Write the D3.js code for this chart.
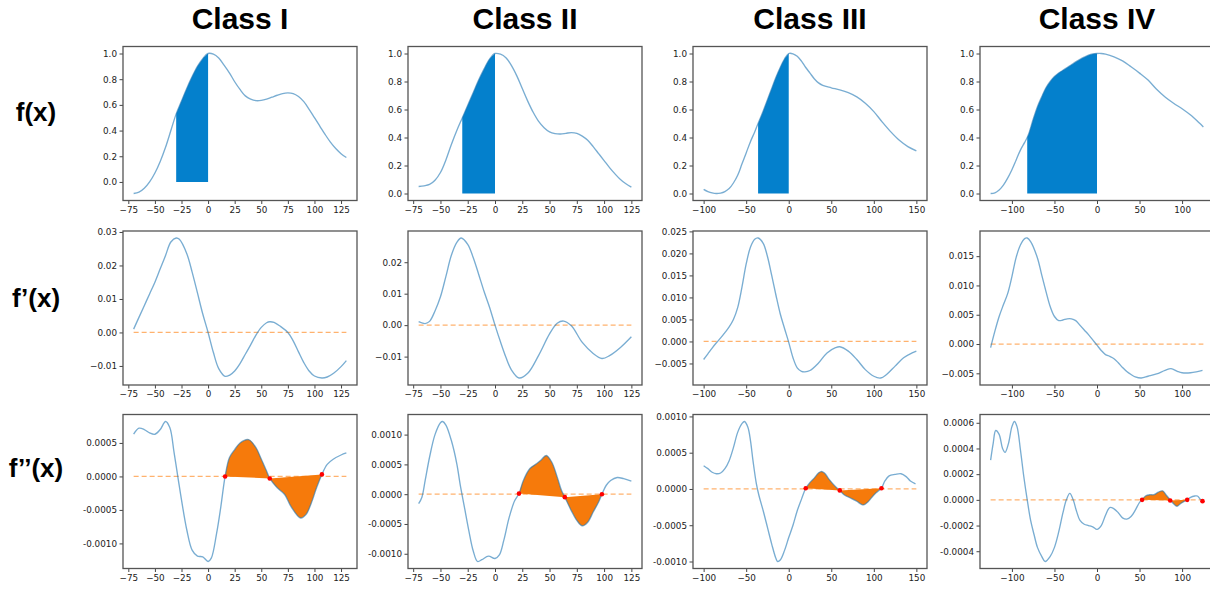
<!DOCTYPE html>
<html>
<head>
<meta charset="utf-8">
<script src="https://cdn.jsdelivr.net/npm/d3@7"></script>
<style>
  body { margin: 0; background: #fff; }
  svg { display: block; }
  .tick text { font-family: "DejaVu Sans", sans-serif; font-size: 8.8px; fill: #222; }
  .tick line { stroke: #444; }
  .big { font-family: "Liberation Sans", Arial, sans-serif; font-weight: bold; fill: #000; }
</style>
</head>
<body>
<svg id="chart" width="1210" height="589"></svg>
<script>
// column titles and row labels
var classes = ["Class I", "Class II", "Class III", "Class IV"];
var rowLabels = ["f(x)", "f\u2019(x)", "f\u2019\u2019(x)"];

// Class I
var fI = [[-70,-0.09],[-65,-0.08],[-60,-0.05],[-55,0.0],[-50,0.07],[-45,0.16],[-40,0.27],[-35,0.4],[-30,0.53],[-25,0.63],[-20,0.73],[-15,0.82],[-10,0.9],[-5,0.96],[0,1.0],[5,0.995],[10,0.965],[15,0.91],[20,0.85],[25,0.78],[30,0.72],[35,0.67],[40,0.645],[45,0.633],[50,0.635],[55,0.645],[60,0.66],[65,0.675],[70,0.688],[75,0.693],[80,0.688],[85,0.665],[90,0.625],[95,0.565],[100,0.5],[105,0.435],[110,0.37],[115,0.31],[120,0.26],[125,0.22],[130,0.19]];
var d1I = [[-70,0.001],[-65,0.0045],[-60,0.008],[-55,0.0115],[-50,0.015],[-45,0.019],[-40,0.023],[-35,0.027],[-30,0.0282],[-27,0.0278],[-20,0.0235],[-15,0.018],[-10,0.0118],[-5,0.0055],[0,0.0],[5,-0.006],[10,-0.0108],[16,-0.0131],[20,-0.0128],[25,-0.0115],[30,-0.0093],[35,-0.0065],[40,-0.0037],[45,-0.0008],[50,0.0015],[55,0.0029],[58,0.0032],[62,0.003],[68,0.0018],[75,0.0],[80,-0.0025],[85,-0.0058],[90,-0.009],[95,-0.0115],[100,-0.013],[107,-0.0136],[112,-0.0133],[118,-0.0122],[125,-0.0102],[130,-0.0084]];
var d2I = [[-70,0.00063],[-65,0.00072],[-60,0.0007],[-55,0.00065],[-50,0.00063],[-45,0.0007],[-40,0.00082],[-36,0.00073],[-32,0.00036],[-28,-0.00005],[-25,-0.00035],[-20,-0.0008],[-15,-0.0011],[-10,-0.00119],[-5,-0.0012],[0,-0.00127],[3,-0.00122],[8,-0.00085],[12,-0.00045],[16,0.0],[20,0.00028],[25,0.0004],[30,0.0005],[38,0.00055],[45,0.00043],[50,0.00026],[55,0.00008],[58,-0.00003],[65,-0.00017],[72,-0.00027],[78,-0.00045],[87,-0.00062],[92,-0.00057],[97,-0.0004],[102,-0.00017],[107,0.00003],[112,0.00018],[118,0.00026],[125,0.00032],[130,0.00035]];
var redI = [[16,0.0],[58,-0.00003],[107,0.00003]];

// Class II
var fII = [[-70,0.05],[-65,0.055],[-60,0.065],[-55,0.095],[-50,0.15],[-45,0.24],[-40,0.35],[-35,0.45],[-30,0.54],[-25,0.63],[-20,0.72],[-15,0.81],[-10,0.89],[-5,0.96],[0,1.0],[5,0.995],[10,0.97],[15,0.915],[20,0.84],[25,0.75],[30,0.66],[35,0.58],[40,0.515],[45,0.47],[50,0.44],[55,0.428],[60,0.425],[65,0.43],[70,0.435],[75,0.43],[80,0.41],[85,0.38],[90,0.335],[95,0.285],[100,0.235],[105,0.185],[110,0.14],[115,0.1],[120,0.07],[125,0.045]];
var d1II = [[-70,0.0011],[-67,0.0007],[-64,0.0005],[-60,0.0012],[-55,0.0045],[-50,0.009],[-45,0.0155],[-40,0.0222],[-35,0.0263],[-31,0.0277],[-25,0.0257],[-20,0.0215],[-15,0.0162],[-10,0.0107],[-5,0.0057],[0,0.0],[5,-0.0053],[10,-0.0102],[15,-0.0142],[22,-0.0168],[30,-0.0153],[40,-0.0096],[50,-0.0028],[57,0.0006],[63,0.0013],[70,-0.0002],[80,-0.0055],[90,-0.009],[98,-0.0106],[105,-0.0097],[115,-0.0071],[125,-0.0037]];
var d2II = [[-70,-0.00016],[-67,-0.00005],[-64,0.00023],[-60,0.00062],[-55,0.001],[-50,0.0012],[-48,0.00122],[-45,0.00116],[-40,0.0009],[-35,0.00051],[-32,0.00017],[-28,-0.00022],[-24,-0.00061],[-20,-0.00095],[-16,-0.00113],[-12,-0.0011],[-6,-0.00104],[0,-0.00108],[4,-0.00102],[8,-0.00078],[13,-0.00039],[18,-0.00011],[22,0.00001],[26,0.00023],[32,0.00043],[38,0.00051],[42,0.00057],[47,0.00065],[52,0.00054],[57,0.00029],[61,0.00006],[64,-0.00005],[70,-0.00028],[75,-0.00044],[80,-0.00053],[85,-0.00047],[90,-0.0003],[95,-0.00013],[98,0.0],[102,0.00015],[106,0.00023],[112,0.00028],[118,0.00026],[125,0.00022]];
var redII = [[22,0.00001],[64,-0.00005],[98,0.0]];

// Class III
var fIII = [[-100,0.03],[-95,0.014],[-90,0.004],[-85,0.0],[-80,0.003],[-75,0.014],[-70,0.035],[-65,0.075],[-60,0.13],[-55,0.21],[-50,0.29],[-45,0.37],[-40,0.44],[-36,0.5],[-30,0.59],[-25,0.67],[-20,0.75],[-15,0.83],[-10,0.9],[-5,0.96],[0,1.0],[5,0.998],[10,0.98],[15,0.945],[20,0.9],[25,0.86],[30,0.82],[35,0.79],[40,0.772],[50,0.755],[60,0.74],[70,0.72],[80,0.69],[90,0.645],[100,0.585],[110,0.51],[120,0.44],[130,0.38],[140,0.335],[150,0.305]];
var d1III = [[-100,-0.0041],[-95,-0.0028],[-90,-0.0015],[-85,-0.0003],[-80,0.0008],[-75,0.002],[-70,0.0033],[-65,0.005],[-60,0.0077],[-55,0.0123],[-50,0.0176],[-45,0.0214],[-40,0.0232],[-36,0.0235],[-30,0.0223],[-25,0.0193],[-20,0.015],[-15,0.0105],[-10,0.0063],[-5,0.003],[0,-0.0002],[5,-0.0037],[10,-0.006],[15,-0.0068],[19,-0.0069],[25,-0.0066],[35,-0.0049],[45,-0.0026],[55,-0.0014],[60,-0.0012],[70,-0.0022],[80,-0.0041],[90,-0.0064],[100,-0.0079],[108,-0.0083],[115,-0.0075],[125,-0.0056],[135,-0.0037],[145,-0.0026],[150,-0.0022]];
var d2III = [[-100,0.00032],[-95,0.00028],[-90,0.00023],[-85,0.00021],[-80,0.00022],[-75,0.00028],[-70,0.00039],[-65,0.00057],[-60,0.00078],[-55,0.0009],[-52,0.00093],[-48,0.00085],[-45,0.00067],[-42,0.00039],[-38,0.00007],[-35,-0.00009],[-30,-0.0003],[-25,-0.00053],[-20,-0.00076],[-15,-0.00096],[-13,-0.001],[-10,-0.00098],[-5,-0.00085],[0,-0.00067],[5,-0.0005],[10,-0.0003],[15,-0.00014],[20,0.00001],[25,0.00009],[30,0.00015],[35,0.00022],[38,0.00024],[42,0.00022],[47,0.00014],[52,0.00007],[57,0.00001],[60,-0.00002],[65,-0.00008],[70,-0.00011],[75,-0.00014],[80,-0.00017],[85,-0.00021],[88,-0.00022],[93,-0.00018],[98,-0.00011],[103,-0.00005],[109,0.00001],[113,0.00011],[118,0.00018],[125,0.0002],[132,0.00021],[138,0.00017],[143,0.00011],[149,0.00007]];
var redIII = [[20,0.00001],[60,-0.00002],[109,0.00001]];

// Class IV
var fIV = [[-125,0.0],[-120,0.005],[-115,0.025],[-110,0.06],[-105,0.11],[-100,0.17],[-95,0.24],[-90,0.31],[-85,0.365],[-82,0.4],[-80,0.43],[-75,0.53],[-70,0.62],[-65,0.69],[-60,0.755],[-55,0.8],[-50,0.835],[-45,0.86],[-40,0.88],[-35,0.9],[-30,0.92],[-25,0.94],[-20,0.958],[-15,0.974],[-10,0.988],[-5,0.997],[0,1.0],[5,1.0],[10,0.995],[20,0.976],[30,0.947],[40,0.905],[50,0.86],[60,0.81],[70,0.745],[80,0.69],[90,0.645],[100,0.605],[110,0.56],[120,0.505],[125,0.475]];
var d1IV = [[-125,-0.0006],[-120,0.0022],[-115,0.0047],[-110,0.0067],[-105,0.0086],[-100,0.0115],[-95,0.0148],[-90,0.0169],[-85,0.018],[-82,0.0181],[-78,0.0175],[-70,0.0147],[-65,0.0118],[-60,0.009],[-55,0.0064],[-50,0.0047],[-45,0.004],[-40,0.0041],[-35,0.0043],[-30,0.0043],[-25,0.004],[-20,0.0032],[-15,0.0024],[-10,0.0016],[-5,0.0007],[0,-0.0002],[5,-0.0011],[10,-0.0018],[15,-0.0021],[20,-0.0025],[25,-0.0032],[30,-0.004],[35,-0.0047],[40,-0.0052],[45,-0.0056],[52,-0.0058],[60,-0.0055],[70,-0.0051],[80,-0.0045],[87,-0.0042],[95,-0.0047],[100,-0.0049],[110,-0.0049],[118,-0.0047],[124,-0.0045]];
var d2IV = [[-125,0.00031],[-122,0.00044],[-119,0.00054],[-115,0.00051],[-111,0.0004],[-108,0.00037],[-104,0.00044],[-100,0.00057],[-97,0.00061],[-94,0.00057],[-90,0.00039],[-86,0.00018],[-82,0.0],[-78,-0.00016],[-74,-0.00027],[-70,-0.00037],[-65,-0.00044],[-61,-0.00048],[-55,-0.00044],[-50,-0.00037],[-45,-0.00025],[-40,-0.0001],[-36,0.0],[-32,0.00005],[-28,0.0],[-24,-0.00009],[-20,-0.00016],[-15,-0.00019],[-10,-0.0002],[-5,-0.00021],[0,-0.00023],[5,-0.0002],[10,-0.00012],[15,-0.00006],[20,-0.00007],[25,-0.0001],[30,-0.00014],[35,-0.00015],[40,-0.00013],[45,-0.00008],[50,-0.00002],[53,0.0],[57,0.00003],[62,0.00004],[67,0.00004],[72,0.00006],[77,0.00007],[81,0.00004],[86,0.0],[90,-0.00003],[94,-0.00005],[98,-0.00003],[103,-0.00001],[106,0.0],[110,0.00002],[115,0.00003],[118,0.00003],[122,0.0],[124,-0.00001]];
var redIV = [[53,0.0],[86,-0.000005],[106,0.0],[124,-0.00001]];

// where the blue area starts (it always ends at 0) and how many red points bound the orange area
var fillFrom = [-30, -30, -36, -82];
var redFillCount = [3, 3, 3, 3];

// tick values
var xTicksA = [-75, -50, -25, 0, 25, 50, 75, 100, 125];
var xTicksB = [-100, -50, 0, 50, 100, 150];
var xTicksC = [-100, -50, 0, 50, 100];
var yTicksF = [0, 0.2, 0.4, 0.6, 0.8, 1.0];
var yTicksD1 = [[-0.01, 0, 0.01, 0.02, 0.03], [-0.01, 0, 0.01, 0.02], [-0.005, 0, 0.005, 0.01, 0.015, 0.02, 0.025], [-0.005, 0, 0.005, 0.01, 0.015]];
var yTicksD2 = [[-0.001, -0.0005, 0, 0.0005], [-0.001, -0.0005, 0, 0.0005, 0.001], [-0.001, -0.0005, 0, 0.0005, 0.001], [-0.0004, -0.0002, 0, 0.0002, 0.0004, 0.0006]];

var panels = [
  { f: fI, d1: d1I, d2: d2I, red: redI, xt: xTicksA, d1fmt: ".2f" },
  { f: fII, d1: d1II, d2: d2II, red: redII, xt: xTicksA, d1fmt: ".2f" },
  { f: fIII, d1: d1III, d2: d2III, red: redIII, xt: xTicksB, d1fmt: ".3f" },
  { f: fIV, d1: d1IV, d2: d2IV, red: redIV, xt: xTicksC, d1fmt: ".3f" }
];

var svg = d3.select("#chart");
svg.append("rect").attr("width", 1210).attr("height", 589).attr("fill", "#fff");

var colLeft = [123, 408, 693, 980], panelW = 234;
var rowTop = [46.5, 231, 414.5], panelH = 154;
var curve = d3.curveCatmullRom.alpha(0.5);

panels.forEach(function(p, c) {
  var allX = p.f.concat(p.d1, p.d2).map(function(d) { return d[0]; });
  var xmin = d3.min(allX), xmax = d3.max(allX), xpad = (xmax - xmin) * 0.05;
  var x = d3.scaleLinear().domain([xmin - xpad, xmax + xpad]).range([colLeft[c], colLeft[c] + panelW]);

  [p.f, p.d1, p.d2].forEach(function(s, r) {
    var top = rowTop[r];
    var ys = s.map(function(d) { return d[1]; }).concat([0]);
    if (r == 2) ys = ys.concat(p.red.map(function(d) { return d[1]; }));
    var ymin = d3.min(ys), ymax = d3.max(ys), ypad = (ymax - ymin) * 0.05;
    var y = d3.scaleLinear().domain([ymin - ypad, ymax + ypad]).range([top + panelH, top]);
    var g = svg.append("g");

    var line = d3.line().x(function(d) { return x(d[0]); }).y(function(d) { return y(d[1]); }).curve(curve);

    if (r > 0) {
      g.append("line")
        .attr("x1", x(xmin)).attr("x2", x(xmax))
        .attr("y1", y(0)).attr("y2", y(0))
        .attr("stroke", "#ff7f0e").attr("stroke-opacity", 0.6)
        .attr("stroke-width", 1.3).attr("stroke-dasharray", "5,3");
    }

    if (r == 0) {
      var seg = s.filter(function(d) { return d[0] >= fillFrom[c] && d[0] <= 0; });
      var area = d3.area().x(function(d) { return x(d[0]); })
        .y0(y(0)).y1(function(d) { return y(d[1]); }).curve(curve);
      g.append("path").attr("d", area(seg)).attr("fill", "#0480cc");
    }

    if (r == 2) {
      var pts = p.red.slice(0, redFillCount[c]);
      var a = pts[0][0], b = pts[pts.length - 1][0];
      var seg2 = s.filter(function(d) { return d[0] >= a && d[0] <= b; });
      var back = pts.slice().reverse().map(function(d) { return "L" + x(d[0]) + "," + y(d[1]); }).join("");
      g.append("path").attr("d", line(seg2) + back + "Z").attr("fill", "#f67a0b");
    }

    g.append("path").attr("d", line(s))
      .attr("fill", "none").attr("stroke", "#1f77b4")
      .attr("stroke-opacity", 0.6).attr("stroke-width", 1.35);

    if (r == 2) {
      g.selectAll("circle").data(p.red).enter().append("circle")
        .attr("cx", function(d) { return x(d[0]); })
        .attr("cy", function(d) { return y(d[1]); })
        .attr("r", 2.3).attr("fill", "#ff0000");
    }

    // axes
    var yt, yf;
    if (r == 0) { yt = yTicksF; yf = d3.format(".1f"); }
    else if (r == 1) { yt = yTicksD1[c]; yf = d3.format(p.d1fmt); }
    else { yt = yTicksD2[c]; yf = function(v) { return d3.format(".4f")(v).replace("\u2212", "-"); }; }

    g.append("g").attr("transform", "translate(0," + (top + panelH) + ")")
      .call(d3.axisBottom(x).tickValues(p.xt).tickSize(3.5).tickPadding(2.5).tickFormat(d3.format("d")))
      .call(function(a) { a.select(".domain").remove(); });
    g.append("g").attr("transform", "translate(" + colLeft[c] + ",0)")
      .call(d3.axisLeft(y).tickValues(yt).tickSize(3.5).tickPadding(2.5).tickFormat(yf))
      .call(function(a) { a.select(".domain").remove(); });

    g.append("rect")
      .attr("x", colLeft[c]).attr("y", top)
      .attr("width", panelW).attr("height", panelH)
      .attr("fill", "none").attr("stroke", "#555").attr("stroke-width", 1.3);
  });

  svg.append("text").attr("class", "big")
    .attr("x", colLeft[c] + panelW / 2).attr("y", 29)
    .attr("text-anchor", "middle").style("font-size", "30px")
    .text(classes[c]);
});

var labelY = [121, 307, 477];
rowLabels.forEach(function(t, i) {
  svg.append("text").attr("class", "big")
    .attr("x", 36).attr("y", labelY[i])
    .attr("text-anchor", "middle").style("font-size", "26px")
    .text(t);
});
</script>
</body>
</html>
